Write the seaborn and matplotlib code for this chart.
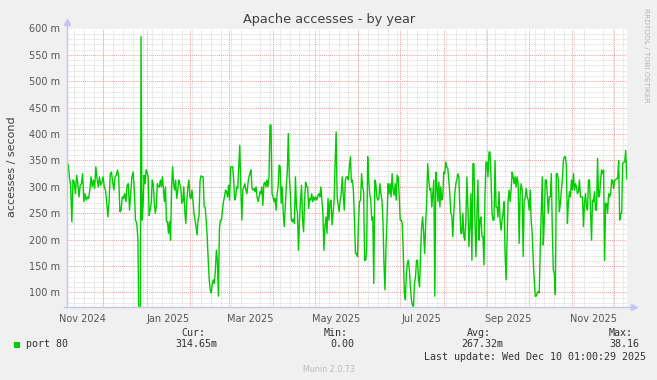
import pandas as pd
import matplotlib
matplotlib.use("Agg")
import matplotlib.pyplot as plt
import matplotlib.dates as mdates
from matplotlib.ticker import MultipleLocator, FuncFormatter
from matplotlib.patches import Rectangle
import seaborn as sns

# Munin "apache accesses" year graph, values in milli-accesses/second
# in stretches, each with its own time span
seg1_span = ("2024-11-05 01:00", "2024-12-27 10:00")
seg1_vals = [322, 343, 319, 303, 234, 313, 309, 287, 322, 306, 281, 303, 306, 325, 272, 287, 275, 281, 278, 294,
             319, 300, 313, 297, 338, 316, 300, 319, 303, 308, 319, 300, 294, 272, 243, 272, 325, 328, 309, 294,
             319, 322, 332, 319, 253, 256, 281, 278, 287, 272, 303, 306, 256, 287, 319, 328, 294, 237, 231, 202,
             0, 0]

seg2_span = ("2024-12-27 22:00", "2025-03-23 00:00")
seg2_vals = [585, 237, 265, 322, 306, 332, 328, 319, 246, 256, 269, 313, 306, 272, 250, 262, 306, 300,
             300, 313, 300, 319, 297, 272, 300, 234, 234, 212, 234, 199, 297, 338, 306, 294, 313, 278, 291, 313,
             306, 300, 269, 272, 300, 253, 231, 275, 300, 313, 281, 278, 294, 275, 250, 237, 225, 209, 237, 246,
             313, 321, 319, 319, 262, 261, 237, 206, 161, 124, 105, 99, 117, 124, 117, 142, 180, 161, 93, 221,
             237, 237, 256, 272, 281, 294, 291, 281, 303, 275, 338, 338, 338, 313, 275, 281, 300, 297, 338, 379,
             300, 237, 294, 300, 306, 294, 287, 306, 319, 325, 332, 297, 294, 297, 291, 300, 281, 272, 281, 291]

seg3_span = ("2025-03-23 12:00", "2025-07-29 10:00")
seg3_vals = [287, 300, 265, 306, 309, 300, 313, 300, 319, 417, 417, 287, 281, 272, 278, 256, 287, 300, 341, 338,
             269, 300, 250, 225, 262, 300, 328, 401, 319, 287, 237, 234, 240, 231, 319, 262, 250, 180, 237, 275,
             303, 237, 215, 275, 309, 300, 300, 259, 278, 275, 287, 272, 281, 275, 281, 275, 284, 287, 281, 300,
             275, 250, 180, 225, 243, 212, 278, 237, 272, 275, 228, 250, 275, 344, 404, 281, 265, 253, 275, 287,
             319, 284, 256, 313, 319, 319, 313, 338, 357, 309, 313, 291, 237, 174, 174, 168, 237, 272, 275, 325,
             300, 291, 161, 161, 180, 357, 313, 287, 275, 237, 243, 117, 313, 306, 281, 275, 278, 306, 287, 275,
             237, 155, 105, 187, 237, 306, 287, 306, 281, 325, 294, 284, 306, 275, 322, 319, 281, 237, 237, 231,
             174, 99, 86, 136, 155, 161, 142, 111, 86, 76, 73, 117, 130, 161, 161, 124, 111, 174, 225, 243,
             212, 174, 231, 272, 344, 313, 294, 297, 262, 287, 313, 93, 328, 306, 272, 309, 262]

seg4_span = ("2025-07-30 00:00", "2025-12-09 20:00")
seg4_vals = [300, 275, 281, 328, 325, 347, 338, 335, 313, 287, 250, 246, 206, 250, 287, 306, 313, 325, 319, 262,
             212, 212, 250, 206, 199, 237, 319, 262, 187, 225, 287, 161, 344, 344, 237, 168, 250, 313, 199, 237,
             243, 206, 206, 152, 281, 347, 347, 319, 366, 366, 319, 250, 237, 237, 350, 262, 262, 243, 291, 237,
             218, 237, 250, 272, 174, 124, 199, 275, 294, 272, 294, 328, 319, 306, 319, 300, 319, 306, 193, 287,
             306, 294, 168, 275, 278, 297, 281, 275, 256, 294, 234, 212, 161, 124, 93, 93, 99, 102, 99, 187,
             250, 319, 190, 237, 313, 313, 287, 250, 281, 281, 325, 218, 142, 136, 96, 325, 325, 313, 253, 269,
             294, 313, 350, 357, 357, 338, 231, 269, 291, 281, 313, 294, 325, 294, 306, 300, 287, 291, 313, 281,
             281, 281, 225, 269, 287, 262, 256, 313, 313, 256, 199, 275, 272, 291, 256, 256, 354, 281, 284, 313,
             332, 325, 332, 161, 269, 269, 250, 287, 281, 287, 313, 313, 297, 313, 313, 316, 316, 350, 237, 250,
             250, 344, 347, 347, 369, 315]

x_start, x_end = "2024-11-05 01:00", "2025-12-10 01:00"
legend_head = ["Cur:", "Min:", "Avg:", "Max:"]
legend_vals = ["314.65m", "0.00", "267.32m", "38.16"]

segments = [(seg1_span, seg1_vals), (seg2_span, seg2_vals), (seg3_span, seg3_vals), (seg4_span, seg4_vals)]
frames = []
for (s, e), vals in segments:
    frames.append(pd.DataFrame({"time": pd.date_range(s, e, periods=len(vals)), "rate": vals}))
df = pd.concat(frames, ignore_index=True)

W, H = 657, 380
fig = plt.figure(figsize=(W / 100, H / 100), dpi=100, facecolor="#F0F0F0")
L, R, T, B = 67, 627, 28.5, 307
ax = fig.add_axes([L / W, 1 - B / H, (R - L) / W, (B - T) / H])
ax.set_facecolor("white")

def px(x, y):
    return x / W, 1 - y / H

sns.lineplot(data=df, x="time", y="rate", ax=ax, color="#00CC00", linewidth=1.0,
             estimator=None, errorbar=None, zorder=5)

t0, t1 = pd.Timestamp(x_start), pd.Timestamp(x_end)
ax.set_xlim(t0, t1)
ax.set_ylim(72.5, 600)

# grid: weekly / 10m grey, monthly / 50m red
dots = (0, (1, 1))
ax.yaxis.set_major_locator(MultipleLocator(50))
ax.yaxis.set_minor_locator(MultipleLocator(10))
ax.yaxis.set_major_formatter(FuncFormatter(lambda v, p: f"{v:.0f} m"))
ax.xaxis.set_major_locator(mdates.MonthLocator(bymonth=(1, 3, 5, 7, 9, 11), bymonthday=16))
ax.xaxis.set_major_formatter(mdates.DateFormatter("%b %Y"))
ax.xaxis.set_minor_locator(mdates.WeekdayLocator(byweekday=mdates.SU))
ax.grid(which="minor", axis="both", color="#D4D4D4", linestyle=dots, linewidth=0.6, zorder=1)
ax.grid(which="major", axis="y", color="#F2A0A0", linestyle=dots, linewidth=0.7, zorder=2)
for d in mdates.MonthLocator(bymonthday=1).tick_values(t0, t1):
    ax.axvline(d, color="#F2A0A0", linestyle=dots, linewidth=0.7, zorder=2)
ax.set_axisbelow(True)

for s in ax.spines.values():
    s.set_visible(False)
ax.tick_params(axis="both", which="both", length=0, labelsize=7, labelcolor="#555555")
ax.tick_params(axis="y", pad=5)
ax.tick_params(axis="x", pad=5)
ax.set_xlabel("")
ax.set_ylabel("")

# axis lines with arrow heads
axc = "#C4C4F4"
ax.plot([-0.005, 1.012], [0, 0], transform=ax.transAxes, clip_on=False, color=axc, lw=1, zorder=6)
ax.plot([1.013], [0], transform=ax.transAxes, clip_on=False, marker=">", ms=4, color=axc, zorder=6)
ax.plot([0, 0], [0, 1.02], transform=ax.transAxes, clip_on=False, color=axc, lw=1, zorder=6)
ax.plot([0], [1.025], transform=ax.transAxes, clip_on=False, marker="^", ms=4, color=axc, zorder=6)

fig.text(*px(329, 19), "Apache accesses - by year", ha="center", va="center", fontsize=9.3, color="#404040")
fig.text(*px(12, 167), "accesses / second", rotation=90, ha="center", va="center", fontsize=8, color="#404040")
fig.text(*px(646, 55), "RRDTOOL / TOBI OETIKER", rotation=270, ha="center", va="center",
         fontsize=5.3, color="#B4B4B4")

mono = "DejaVu Sans Mono"
fig.patches.append(Rectangle(px(14, 348), 6 / W, 6 / H, transform=fig.transFigure,
                             facecolor="#00CC00", edgecolor="none"))
fig.text(*px(26, 344), "port 80", ha="left", va="center", fontsize=7.2, family=mono, color="#333333")
for hx, head, vx, val in zip([181, 324, 467, 609], legend_head, [175, 330, 461, 609], legend_vals):
    fig.text(*px(hx, 333), head, ha="left", va="center", fontsize=7.2, family=mono, color="#333333")
    fig.text(*px(vx, 344), val, ha="left", va="center", fontsize=7.2, family=mono, color="#333333")
fig.text(*px(646, 356.5), "Last update: Wed Dec 10 01:00:29 2025", ha="right", va="center",
         fontsize=7.2, family=mono, color="#333333")
fig.text(*px(329, 369), "Munin 2.0.73", ha="center", va="center", fontsize=5.8, color="#BBBBBB")

fig.savefig("out.png", dpi=100, facecolor=fig.get_facecolor())
